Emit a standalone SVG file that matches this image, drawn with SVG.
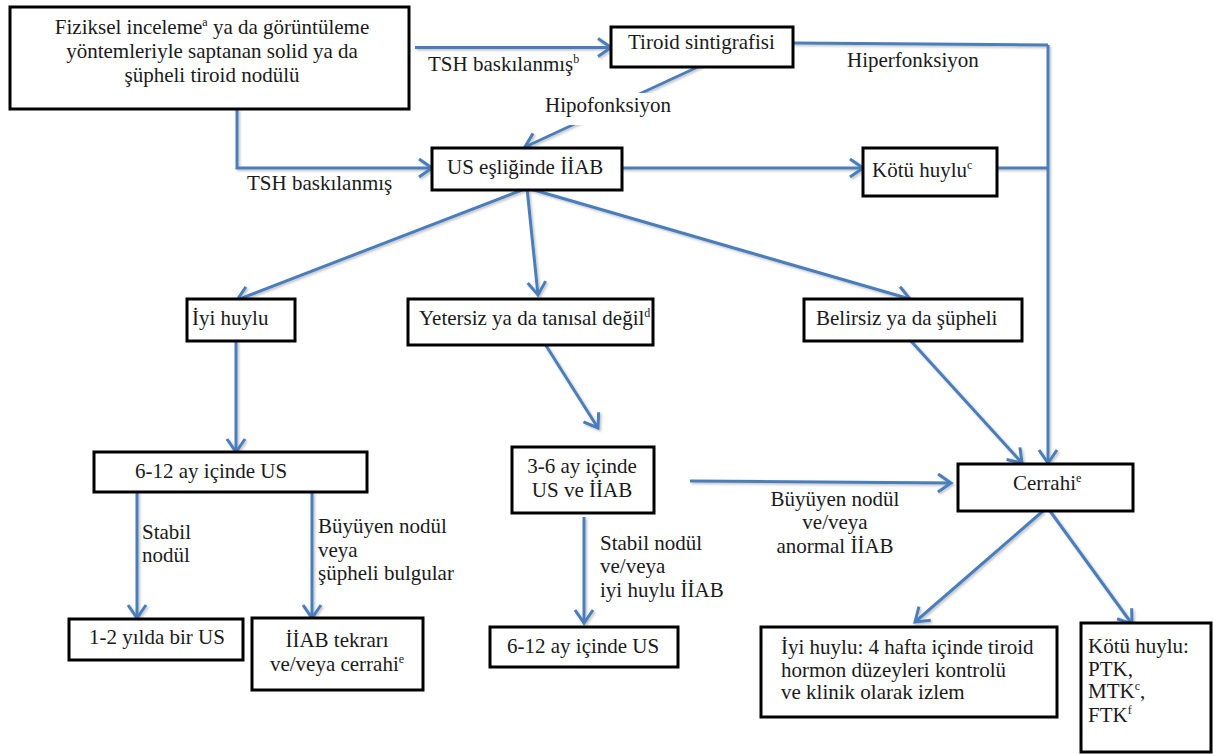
<svg xmlns="http://www.w3.org/2000/svg" width="1213" height="754" viewBox="0 0 1213 754">
<style>
.box{fill:#fff;stroke:#000;stroke-width:3}
.c{fill:none;stroke:#4a7ebb;stroke-width:3;marker-end:url(#ah)}
.cn{fill:none;stroke:#4a7ebb;stroke-width:3}
text{font-family:"Liberation Serif","Times New Roman","DejaVu Serif",serif;font-size:21px;fill:#1a1a1a}
.m{text-anchor:middle}
.sup{font-size:12px}
</style>
<defs>
<marker id="ah" markerUnits="userSpaceOnUse" markerWidth="24" markerHeight="24" viewBox="-16 -12 20 24" refX="0" refY="0" orient="auto">
<path d="M-13,-9 L0,0 L-13,9" fill="none" stroke="#4a7ebb" stroke-width="3"/>
</marker>
<filter id="sh" x="-5%" y="-5%" width="110%" height="110%"><feDropShadow dx="1.5" dy="1.5" stdDeviation="1.2" flood-color="#000" flood-opacity="0.25"/></filter>
</defs>
<g id="connectors" filter="url(#sh)">
<path class="c" d="M415,47.5 L611,47.5"/>
<path class="c" d="M702,65 L525,147"/>
<path class="cn" d="M793,43 L1048,45"/>
<path class="c" d="M1048,45 L1048,463"/>
<path class="c" d="M237,109 L237,168 L432,168"/>
<path class="c" d="M622,168 L863,168"/>
<path class="cn" d="M990,168 L1048,168"/>
<path class="c" d="M527,188 L237,300"/>
<path class="c" d="M527,188 L538,295"/>
<path class="c" d="M527,188 L910,299"/>
<path class="c" d="M910,340 L1022,463"/>
<path class="c" d="M236,341 L236,452"/>
<path class="c" d="M545,344 L598,428"/>
<path class="c" d="M137,492 L137,618"/>
<path class="c" d="M312,492 L312,618"/>
<path class="c" d="M584,517 L584,623"/>
<path class="c" d="M690,481 L951,483"/>
<path class="c" d="M1043,511 L915,622"/>
<path class="c" d="M1050,511 L1132,624"/>
</g>
<g id="labels">
<rect x="538" y="93" width="142" height="32" fill="#fff"/>
<text x="545" y="112">Hipofonksiyon</text>
<text x="428" y="71">TSH baskılanmış<tspan class="sup" dy="-8">b</tspan></text>
<text x="847" y="67">Hiperfonksiyon</text>
<text x="247" y="190">TSH baskılanmış</text>
<text x="142" y="539">Stabil</text>
<text x="142" y="562">nodül</text>
<text x="318" y="533">Büyüyen nodül</text>
<text x="318" y="557">veya</text>
<text x="318" y="580">şüpheli bulgular</text>
<text x="600" y="550">Stabil nodül</text>
<text x="600" y="573">ve/veya</text>
<text x="600" y="597">iyi huylu İİAB</text>
<text class="m" x="835" y="506">Büyüyen nodül</text>
<text class="m" x="835" y="529">ve/veya</text>
<text class="m" x="835" y="553">anormal İİAB</text>
</g>
<g id="n1"><rect class="box" x="10" y="7" width="399" height="102"/>
<text class="m" x="212" y="34">Fiziksel inceleme<tspan class="sup" dy="-8">a</tspan><tspan dy="8"> ya da görüntüleme</tspan></text>
<text class="m" x="212" y="58">yöntemleriyle saptanan solid ya da</text>
<text class="m" x="212" y="82">şüpheli tiroid nodülü</text></g>
<g id="n2"><rect class="box" x="611" y="27" width="182" height="40"/><text x="628" y="49">Tiroid sintigrafisi</text></g>
<g id="n3"><rect class="box" x="432" y="148" width="190" height="42"/><text x="447" y="174">US eşliğinde İİAB</text></g>
<g id="n4"><rect class="box" x="863" y="148" width="134" height="48"/><text x="872" y="177">Kötü huylu<tspan class="sup" dy="-8">c</tspan></text></g>
<g id="n5"><rect class="box" x="187" y="299" width="108" height="42"/><text x="192" y="325">İyi huylu</text></g>
<g id="n6"><rect class="box" x="408" y="299" width="245" height="46"/><text x="419" y="325">Yetersiz ya da tanısal değil<tspan class="sup" dy="-8">d</tspan></text></g>
<g id="n7"><rect class="box" x="804" y="299" width="218" height="42"/><text x="816" y="325">Belirsiz ya da şüpheli</text></g>
<g id="n8"><rect class="box" x="94" y="452" width="273" height="40"/><text x="135" y="478">6-12 ay içinde US</text></g>
<g id="n9"><rect class="box" x="512" y="447" width="142" height="66"/><text class="m" x="582" y="473">3-6 ay içinde</text><text class="m" x="582" y="497">US ve İİAB</text></g>
<g id="n10"><rect class="box" x="958" y="464" width="175" height="47"/><text x="1013" y="490">Cerrahi<tspan class="sup" dy="-8">e</tspan></text></g>
<g id="n11"><rect class="box" x="69" y="619" width="174" height="41"/><text x="89" y="644">1-2 yılda bir US</text></g>
<g id="n12"><rect class="box" x="252" y="618" width="171" height="72"/><text class="m" x="337" y="647">İİAB tekrarı</text><text class="m" x="337" y="671">ve/veya cerrahi<tspan class="sup" dy="-8">e</tspan></text></g>
<g id="n13"><rect class="box" x="490" y="627" width="188" height="40"/><text x="507" y="653">6-12 ay içinde US</text></g>
<g id="n14"><rect class="box" x="761" y="627" width="296" height="90"/><text x="781" y="654">İyi huylu: 4 hafta içinde tiroid</text><text x="781" y="677">hormon düzeyleri kontrolü</text><text x="781" y="699">ve klinik olarak izlem</text></g>
<g id="n15"><rect class="box" x="1081" y="623" width="130" height="129"/><text x="1088" y="653">Kötü huylu:</text><text x="1088" y="676">PTK,</text><text x="1088" y="698">MTK<tspan class="sup" dy="-8">c</tspan><tspan dy="8">,</tspan></text><text x="1088" y="722">FTK<tspan class="sup" dy="-8">f</tspan></text></g>
</svg>
